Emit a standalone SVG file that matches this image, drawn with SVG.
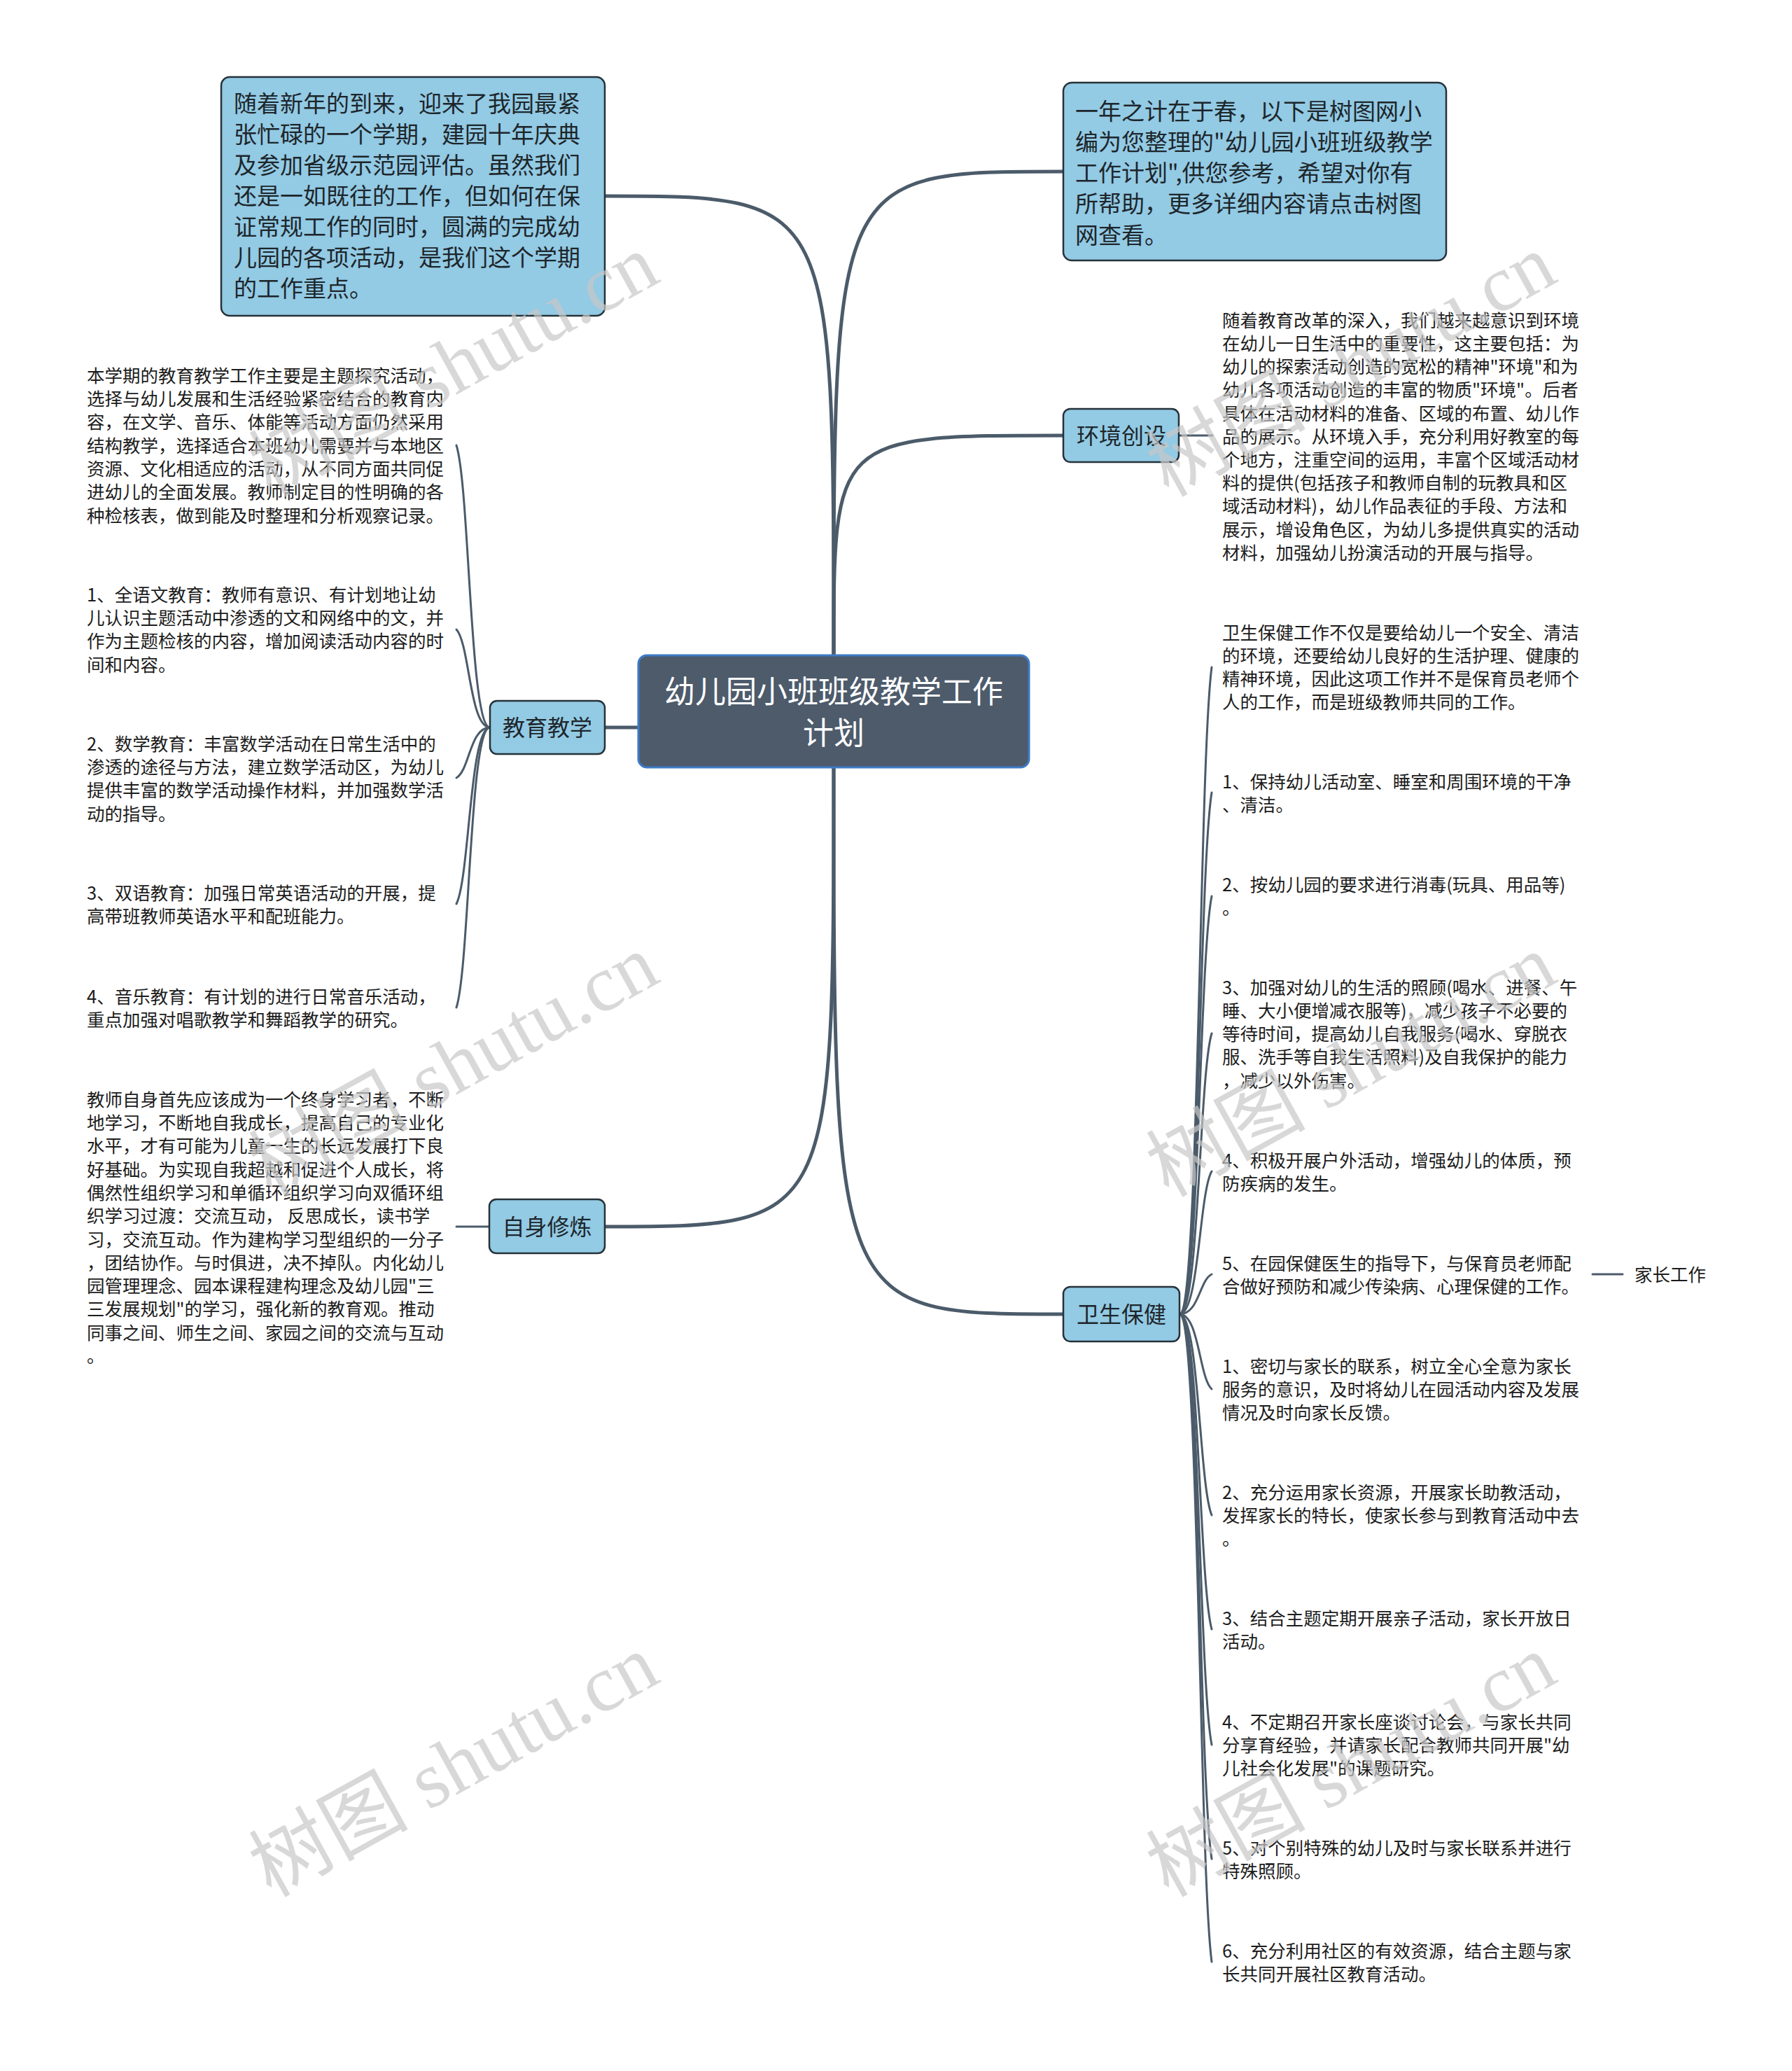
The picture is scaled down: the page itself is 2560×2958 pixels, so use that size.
<svg xmlns="http://www.w3.org/2000/svg" width="2560" height="2958" viewBox="0 0 2560 2958">
<style>
text{font-family:"Noto Sans CJK SC","Noto Sans",sans-serif}
.t{font-size:25.5px;fill:#1c1c1c}
.bt{font-size:33px;fill:#1d262b}
.lbl{font-size:32px;fill:#1d262b;text-anchor:middle}
.title{font-size:44px;fill:#ffffff;text-anchor:middle}
.box{fill:#93cae4;stroke:#263238;stroke-width:2.5}
.root{fill:#4d5b6b;stroke:#3d7bc8;stroke-width:3}
.main{fill:none;stroke:#4b5b6a;stroke-width:5;stroke-linecap:round}
.sub{fill:none;stroke:#4b5b6a;stroke-width:3;stroke-linecap:round}
.wm{font-family:"Liberation Serif","Noto Sans CJK SC",serif;font-size:114px;fill:#c8c8c8;fill-opacity:0.7;text-anchor:middle}
</style>
<rect width="2560" height="2958" fill="#ffffff"/>
<g id="connectors">
<path class="main" d="M1191,936 C1191,280 1191,280 864,280"/>
<path class="main" d="M1191,936 C1191,245 1191,245 1519,245"/>
<path class="main" d="M1191,936 C1191,622 1191,622 1519,622"/>
<path class="main" d="M913,1039 L864,1039"/>
<path class="main" d="M1191,1096 C1191,1752 1191,1752 864,1752"/>
<path class="main" d="M1191,1096 C1191,1877 1191,1877 1519,1877"/>
<path class="sub" d="M1684,622 L1732,622"/>
<path class="sub" d="M700,1039 C671,1039 671,696 652,636"/>
<path class="sub" d="M700,1039 C671,1039 671,920 652,899"/>
<path class="sub" d="M700,1039 C671,1039 671,1100 652,1111"/>
<path class="sub" d="M700,1039 C671,1039 671,1253 652,1291"/>
<path class="sub" d="M700,1039 C671,1039 671,1379 652,1439"/>
<path class="sub" d="M700,1752 L652,1752"/>
<path class="sub" d="M1685,1877 C1713,1877 1713,1092 1731,953"/>
<path class="sub" d="M1685,1877 C1713,1877 1713,1244 1731,1132"/>
<path class="sub" d="M1685,1877 C1713,1877 1713,1370 1731,1280"/>
<path class="sub" d="M1685,1877 C1713,1877 1713,1536 1731,1476"/>
<path class="sub" d="M1685,1877 C1713,1877 1713,1704 1731,1673"/>
<path class="sub" d="M1685,1877 C1713,1877 1713,1829 1731,1820"/>
<path class="sub" d="M1685,1877 C1713,1877 1713,1968 1731,1984"/>
<path class="sub" d="M1685,1877 C1713,1877 1713,2121 1731,2164"/>
<path class="sub" d="M1685,1877 C1713,1877 1713,2260 1731,2327"/>
<path class="sub" d="M1685,1877 C1713,1877 1713,2400 1731,2492"/>
<path class="sub" d="M1685,1877 C1713,1877 1713,2538 1731,2655"/>
<path class="sub" d="M1685,1877 C1713,1877 1713,2663 1731,2802"/>
<path class="sub" d="M2275,1820 L2318,1820"/>
</g>
<g id="root">
<rect class="root" x="912" y="936" width="558" height="160" rx="12"/>
<text class="title"><tspan x="1191" y="1004">幼儿园小班班级教学工作</tspan><tspan x="1191" y="1063">计划</tspan></text>
</g>
<g id="intro-left">
<rect class="box" x="316" y="110" width="548" height="341" rx="12"/>
<text class="bt"><tspan x="334" y="159.5">随着新年的到来，迎来了我园最紧</tspan><tspan x="334" y="203.5">张忙碌的一个学期，建园十年庆典</tspan><tspan x="334" y="247.5">及参加省级示范园评估。虽然我们</tspan><tspan x="334" y="291.5">还是一如既往的工作，但如何在保</tspan><tspan x="334" y="335.5">证常规工作的同时，圆满的完成幼</tspan><tspan x="334" y="379.5">儿园的各项活动，是我们这个学期</tspan><tspan x="334" y="423.5">的工作重点。</tspan></text>
</g>
<g id="intro-right">
<rect class="box" x="1519" y="118" width="547" height="254" rx="12"/>
<text class="bt"><tspan x="1536" y="170.5">一年之计在于春，以下是树图网小</tspan><tspan x="1536" y="214.8">编为您整理的"幼儿园小班班级教学</tspan><tspan x="1536" y="259">工作计划",供您参考，希望对你有</tspan><tspan x="1536" y="303.3">所帮助，更多详细内容请点击树图</tspan><tspan x="1536" y="347.5">网查看。</tspan></text>
</g>
<g id="env">
<rect class="box" x="1519" y="584" width="165" height="76" rx="10"/>
<text class="lbl" x="1602" y="634">环境创设</text>
</g>
<g id="env-text">
<text class="t"><tspan x="1746" y="466.7">随着教育改革的深入，我们越来越意识到环境</tspan><tspan x="1746" y="499.9">在幼儿一日生活中的重要性，这主要包括：为</tspan><tspan x="1746" y="533.1">幼儿的探索活动创造的宽松的精神"环境"和为</tspan><tspan x="1746" y="566.3">幼儿各项活动创造的丰富的物质"环境"。后者</tspan><tspan x="1746" y="599.5">具体在活动材料的准备、区域的布置、幼儿作</tspan><tspan x="1746" y="632.7">品的展示。从环境入手，充分利用好教室的每</tspan><tspan x="1746" y="665.9">个地方，注重空间的运用，丰富个区域活动材</tspan><tspan x="1746" y="699.1">料的提供(包括孩子和教师自制的玩教具和区</tspan><tspan x="1746" y="732.3">域活动材料)，幼儿作品表征的手段、方法和</tspan><tspan x="1746" y="765.5">展示，增设角色区，为幼儿多提供真实的活动</tspan><tspan x="1746" y="798.7">材料，加强幼儿扮演活动的开展与指导。</tspan></text>
</g>
<g id="edu">
<rect class="box" x="700" y="1001" width="164" height="76" rx="10"/>
<text class="lbl" x="782" y="1051">教育教学</text>
</g>
<g id="edu-0">
<text class="t"><tspan x="124" y="545.7">本学期的教育教学工作主要是主题探究活动，</tspan><tspan x="124" y="579">选择与幼儿发展和生活经验紧密结合的教育内</tspan><tspan x="124" y="612.3">容，在文学、音乐、体能等活动方面仍然采用</tspan><tspan x="124" y="645.6">结构教学，选择适合本班幼儿需要并与本地区</tspan><tspan x="124" y="678.9">资源、文化相适应的活动，从不同方面共同促</tspan><tspan x="124" y="712.2">进幼儿的全面发展。教师制定目的性明确的各</tspan><tspan x="124" y="745.5">种检核表，做到能及时整理和分析观察记录。</tspan></text>
</g>
<g id="edu-1">
<text class="t"><tspan x="124" y="858.7">1、全语文教育：教师有意识、有计划地让幼</tspan><tspan x="124" y="892">儿认识主题活动中渗透的文和网络中的文，并</tspan><tspan x="124" y="925.3">作为主题检核的内容，增加阅读活动内容的时</tspan><tspan x="124" y="958.6">间和内容。</tspan></text>
</g>
<g id="edu-2">
<text class="t"><tspan x="124" y="1071.7">2、数学教育：丰富数学活动在日常生活中的</tspan><tspan x="124" y="1105">渗透的途径与方法，建立数学活动区，为幼儿</tspan><tspan x="124" y="1138.3">提供丰富的数学活动操作材料，并加强数学活</tspan><tspan x="124" y="1171.6">动的指导。</tspan></text>
</g>
<g id="edu-3">
<text class="t"><tspan x="124" y="1284.7">3、双语教育：加强日常英语活动的开展，提</tspan><tspan x="124" y="1318">高带班教师英语水平和配班能力。</tspan></text>
</g>
<g id="edu-4">
<text class="t"><tspan x="124" y="1432.7">4、音乐教育：有计划的进行日常音乐活动，</tspan><tspan x="124" y="1466">重点加强对唱歌教学和舞蹈教学的研究。</tspan></text>
</g>
<g id="self">
<rect class="box" x="699" y="1713" width="165" height="77" rx="10"/>
<text class="lbl" x="781.5" y="1764">自身修炼</text>
</g>
<g id="self-text">
<text class="t"><tspan x="124" y="1579.7">教师自身首先应该成为一个终身学习者，不断</tspan><tspan x="124" y="1613">地学习，不断地自我成长，提高自己的专业化</tspan><tspan x="124" y="1646.3">水平，才有可能为儿童一生的长远发展打下良</tspan><tspan x="124" y="1679.6">好基础。为实现自我超越和促进个人成长，将</tspan><tspan x="124" y="1712.9">偶然性组织学习和单循环组织学习向双循环组</tspan><tspan x="124" y="1746.2">织学习过渡：交流互动， 反思成长，读书学</tspan><tspan x="124" y="1779.5">习，交流互动。作为建构学习型组织的一分子</tspan><tspan x="124" y="1812.8">，团结协作。与时俱进，决不掉队。内化幼儿</tspan><tspan x="124" y="1846.1">园管理理念、园本课程建构理念及幼儿园"三</tspan><tspan x="124" y="1879.4">三发展规划"的学习，强化新的教育观。推动</tspan><tspan x="124" y="1912.7">同事之间、师生之间、家园之间的交流与互动</tspan><tspan x="124" y="1946">。</tspan></text>
</g>
<g id="health">
<rect class="box" x="1519" y="1838" width="166" height="78" rx="10"/>
<text class="lbl" x="1602" y="1889">卫生保健</text>
</g>
<g id="health-0">
<text class="t"><tspan x="1746" y="912.7">卫生保健工作不仅是要给幼儿一个安全、清洁</tspan><tspan x="1746" y="945.9">的环境，还要给幼儿良好的生活护理、健康的</tspan><tspan x="1746" y="979.1">精神环境，因此这项工作并不是保育员老师个</tspan><tspan x="1746" y="1012.3">人的工作，而是班级教师共同的工作。</tspan></text>
</g>
<g id="health-1">
<text class="t"><tspan x="1746" y="1125.7">1、保持幼儿活动室、睡室和周围环境的干净</tspan><tspan x="1746" y="1158.9">、清洁。</tspan></text>
</g>
<g id="health-2">
<text class="t"><tspan x="1746" y="1272.7">2、按幼儿园的要求进行消毒(玩具、用品等)</tspan><tspan x="1746" y="1305.9">。</tspan></text>
</g>
<g id="health-3">
<text class="t"><tspan x="1746" y="1419.7">3、加强对幼儿的生活的照顾(喝水、进餐、午</tspan><tspan x="1746" y="1452.9">睡、大小便增减衣服等)，减少孩子不必要的</tspan><tspan x="1746" y="1486.1">等待时间，提高幼儿自我服务(喝水、穿脱衣</tspan><tspan x="1746" y="1519.3">服、洗手等自我生活照料)及自我保护的能力</tspan><tspan x="1746" y="1552.5">，减少以外伤害。</tspan></text>
</g>
<g id="health-4">
<text class="t"><tspan x="1746" y="1666.7">4、积极开展户外活动，增强幼儿的体质，预</tspan><tspan x="1746" y="1699.9">防疾病的发生。</tspan></text>
</g>
<g id="health-5">
<text class="t"><tspan x="1746" y="1813.7">5、在园保健医生的指导下，与保育员老师配</tspan><tspan x="1746" y="1846.9">合做好预防和减少传染病、心理保健的工作。</tspan></text>
</g>
<g id="parent-work">
<text class="t" x="2335" y="1829.7">家长工作</text>
</g>
<g id="parent-1">
<text class="t"><tspan x="1746" y="1960.7">1、密切与家长的联系，树立全心全意为家长</tspan><tspan x="1746" y="1993.9">服务的意识，及时将幼儿在园活动内容及发展</tspan><tspan x="1746" y="2027.1">情况及时向家长反馈。</tspan></text>
</g>
<g id="parent-2">
<text class="t"><tspan x="1746" y="2140.7">2、充分运用家长资源，开展家长助教活动，</tspan><tspan x="1746" y="2173.9">发挥家长的特长，使家长参与到教育活动中去</tspan><tspan x="1746" y="2207.1">。</tspan></text>
</g>
<g id="parent-3">
<text class="t"><tspan x="1746" y="2320.7">3、结合主题定期开展亲子活动，家长开放日</tspan><tspan x="1746" y="2353.9">活动。</tspan></text>
</g>
<g id="parent-4">
<text class="t"><tspan x="1746" y="2468.7">4、不定期召开家长座谈讨论会，与家长共同</tspan><tspan x="1746" y="2501.9">分享育经验，并请家长配合教师共同开展"幼</tspan><tspan x="1746" y="2535.1">儿社会化发展"的课题研究。</tspan></text>
</g>
<g id="parent-5">
<text class="t"><tspan x="1746" y="2648.7">5、对个别特殊的幼儿及时与家长联系并进行</tspan><tspan x="1746" y="2681.9">特殊照顾。</tspan></text>
</g>
<g id="parent-6">
<text class="t"><tspan x="1746" y="2795.7">6、充分利用社区的有效资源，结合主题与家</tspan><tspan x="1746" y="2828.9">长共同开展社区教育活动。</tspan></text>
</g>
<g id="watermarks">
<text class="wm" x="646" y="561" transform="rotate(-29 646 518)">树图 shutu.cn</text>
<text class="wm" x="1928" y="561" transform="rotate(-29 1928 518)">树图 shutu.cn</text>
<text class="wm" x="646" y="1561" transform="rotate(-29 646 1518)">树图 shutu.cn</text>
<text class="wm" x="1928" y="1561" transform="rotate(-29 1928 1518)">树图 shutu.cn</text>
<text class="wm" x="646" y="2561" transform="rotate(-29 646 2518)">树图 shutu.cn</text>
<text class="wm" x="1928" y="2561" transform="rotate(-29 1928 2518)">树图 shutu.cn</text>
</g>
</svg>
